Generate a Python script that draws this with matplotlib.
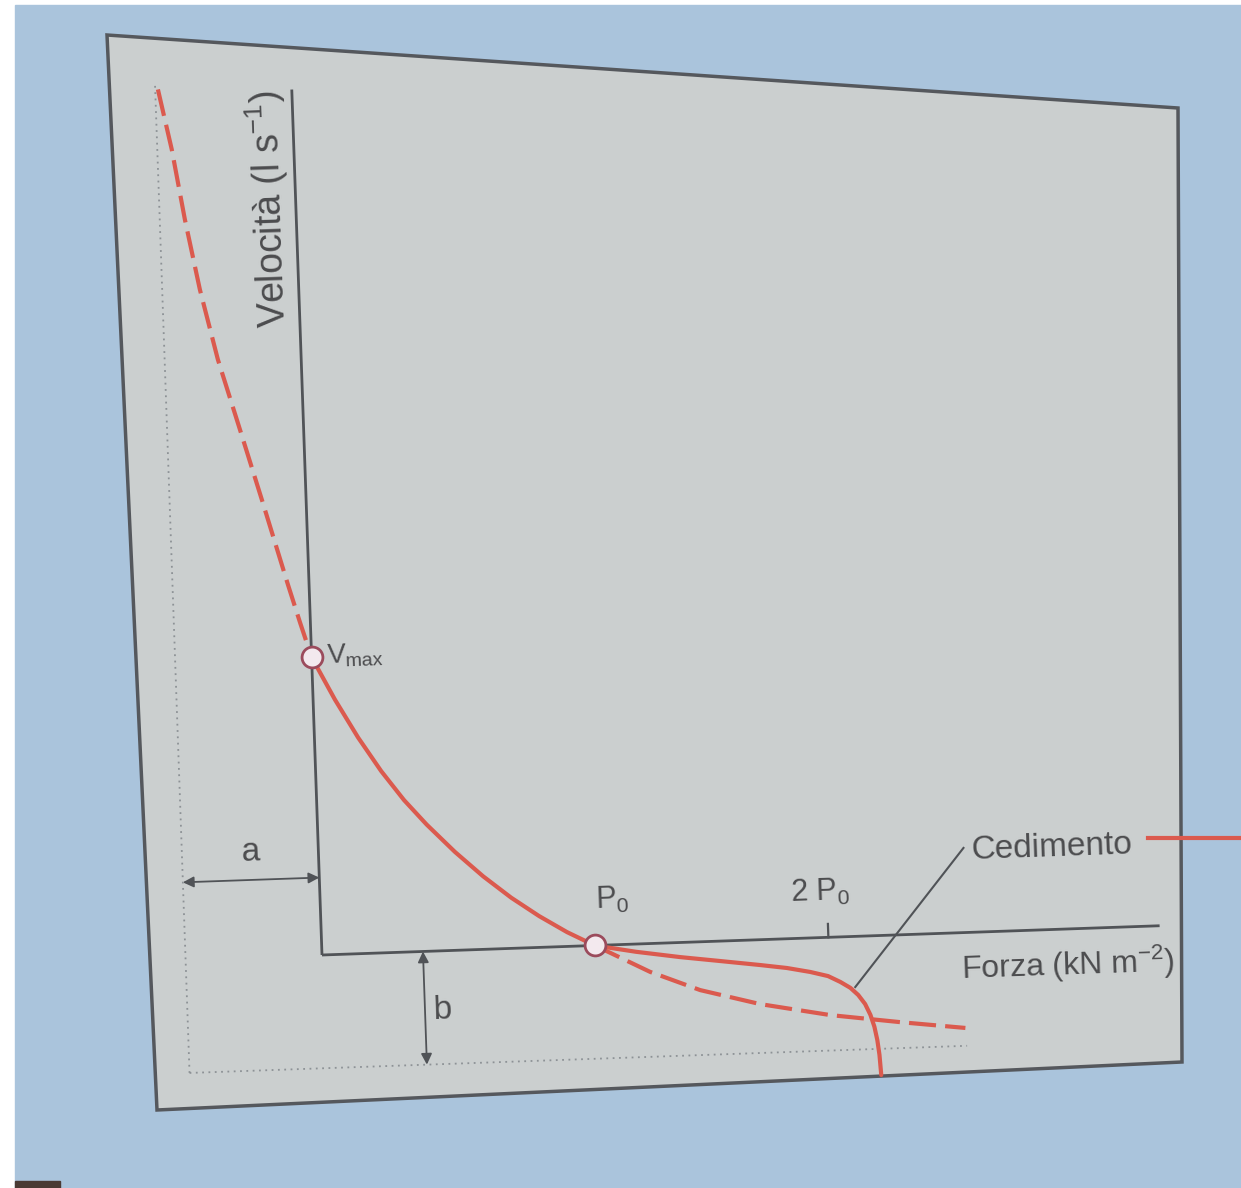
import matplotlib
matplotlib.use("Agg")
import matplotlib.pyplot as plt
from matplotlib.patches import Polygon, Rectangle
from matplotlib.transforms import Affine2D

plt.rcParams['font.family'] = ['Liberation Sans', 'DejaVu Sans']
plt.rcParams['mathtext.fontset'] = 'custom'
plt.rcParams['mathtext.rm'] = 'Liberation Sans'
plt.rcParams['mathtext.it'] = 'Liberation Sans:italic'

# curva forza-velocità (forza in unità di P0, velocità in unità di vmax)
hill_up_P = [-0.490, -0.447, -0.408, -0.362, -0.305, -0.233, -0.162, -0.077, -0.038, 0.0]
hill_up_v = [2.922, 2.719, 2.483, 2.246, 2.009, 1.771, 1.534, 1.245, 1.118, 1.0]
hill_mid_P = [0.0, 0.08, 0.16, 0.24, 0.32, 0.40, 0.50, 0.60, 0.70, 0.80, 0.90, 1.0]
hill_mid_v = [1.0, 0.855, 0.725, 0.61, 0.51, 0.425, 0.33, 0.245, 0.17, 0.105, 0.048, 0.0]
hill_low_P = [1.0, 1.199, 1.380, 1.598, 1.853, 2.109, 2.346]
hill_low_v = [0.0, -0.095, -0.162, -0.216, -0.261, -0.293, -0.320]

# ramo del cedimento (forza oltre P0)
ced_P = [1.0, 1.15, 1.311, 1.45, 1.603, 1.70, 1.785, 1.85, 1.894, 1.93, 1.958,
         1.982, 2.000, 2.013, 2.022, 2.028, 2.032]
ced_v = [0.0, -0.026, -0.049, -0.066, -0.085, -0.098, -0.114, -0.130, -0.151, -0.172,
         -0.197, -0.228, -0.265, -0.305, -0.350, -0.400, -0.468]

# punti notevoli e costanti
pts_P = [0.0, 1.0]
pts_v = [1.0, 0.0]
a_const = 0.50
b_const = 0.38
x_axis_end = 3.07
y_axis_end = 2.906
tick_2p0 = 1.856

RED = '#db5a4e'
GREY = '#505357'
TXT = '#4c4c4e'

fig = plt.figure(figsize=(12.41, 11.88), dpi=100)

# sfondo (foto della diapositiva)
bg = fig.add_axes([0, 0, 1, 1])
bg.set_xlim(0, 1241)
bg.set_ylim(1188, 0)
bg.axis('off')
bg.add_patch(Rectangle((0, 0), 1241, 1188, color='white', zorder=0))
bg.add_patch(Rectangle((15, 5), 1226, 1183, color='#aac4dc', zorder=1))
bg.add_patch(Rectangle((15, 1181), 45, 7, color='#4a3a34', zorder=1))
bg.add_patch(Polygon([(107, 35), (1178, 108), (1182, 1062), (157, 1110)],
                     closed=True, facecolor='#cbcfcf', edgecolor='#55585d',
                     lw=2.5, zorder=2))
bg.plot([1148, 1241], [838, 838], color=RED, lw=3, zorder=3)

# diagramma
ax = fig.add_axes([0, 0, 1, 1], zorder=2)
ax.set_facecolor('none')
ax.set_xlim(-322 / 273, (1241 - 322) / 273)
ax.set_ylim(-(1188 - 955) / 298, 955 / 298)
ax.axis('off')
trans = ax.transData + Affine2D().rotate_deg_around(322, 1188 - 955, 2.0)

# asintoti tratteggiati
dot = dict(color='#8d9296', lw=1.3, ls=(0, (1, 2.5)), transform=trans)
ax.plot([-a_const, -a_const], [-b_const, 2.94], **dot)
ax.plot([-a_const, 2.35], [-b_const, -b_const], **dot)

# assi
ax.plot([0, x_axis_end], [0, 0], color=GREY, lw=2, transform=trans, solid_capstyle='butt')
ax.plot([0, 0], [0, y_axis_end], color=GREY, lw=2, transform=trans, solid_capstyle='butt')
ax.plot([tick_2p0, tick_2p0], [0, 0.045], color=GREY, lw=1.6, transform=trans)

# curve
dash = (0, (6.5, 2.2))
ax.plot(hill_up_P, hill_up_v, color=RED, lw=3, ls=dash, transform=trans)
ax.plot(hill_mid_P, hill_mid_v, color=RED, lw=3, transform=trans, solid_capstyle='round')
ax.plot(hill_low_P, hill_low_v, color=RED, lw=3, ls=dash, transform=trans)
ax.plot(ced_P, ced_v, color=RED, lw=3, transform=trans, solid_capstyle='round')
ax.plot(pts_P, pts_v, 'o', ms=15, mfc='#f3e9ee', mec='#9b4b5c', mew=2,
        transform=trans, zorder=5)

# frecce a e b
arr = dict(arrowstyle='<|-|>', color=GREY, lw=1.3, mutation_scale=16,
           shrinkA=0, shrinkB=0)
ax.annotate('', xy=(0, 0.26), xytext=(-a_const, 0.26), xycoords=trans,
            textcoords=trans, arrowprops=arr)
ax.annotate('', xy=(0.37, 0), xytext=(0.37, -b_const), xycoords=trans,
            textcoords=trans, arrowprops=arr)

# linea del cedimento
ax.plot([1.948, 2.362], [-0.170, 0.284], color=GREY, lw=1.5, transform=trans)

# testi
kw = dict(transform=trans, color=TXT, rotation=2, rotation_mode='anchor')
ax.text(-0.25, 0.30, 'a', ha='center', va='bottom', fontsize=24, **kw)
ax.text(0.40, -0.20, 'b', ha='left', va='center', fontsize=24, **kw)
ax.text(0.055, 1.0, r'V$\mathregular{_{max}}$', ha='left', va='center', fontsize=20, **kw)
ax.text(1.07, 0.10, r'P$\mathregular{_0}$', ha='center', va='bottom', fontsize=22, **kw)
ax.text(1.83, 0.10, r'2 P$\mathregular{_0}$', ha='center', va='bottom', fontsize=22, **kw)
ax.text(2.39, 0.275, 'Cedimento', ha='left', va='center', fontsize=24, **kw)
ax.text(2.34, -0.12, r'Forza (kN m$\mathregular{^{-2}}$)', ha='left', va='center',
        fontsize=23, **kw)
ax.text(-0.05, 2.906, r'Velocità (l s$\mathregular{^{-1}}$)', ha='right', va='baseline',
        fontsize=27, transform=trans, color=TXT, rotation=92, rotation_mode='anchor')

fig.savefig('out.png', dpi=100)
